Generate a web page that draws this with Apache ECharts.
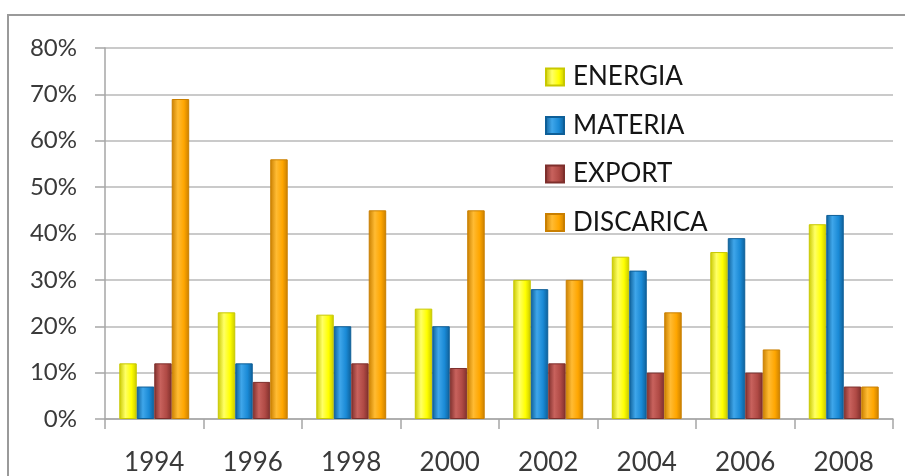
<!DOCTYPE html>
<html>
<head>
<meta charset="utf-8">
<script src="https://cdn.jsdelivr.net/npm/echarts@6/dist/echarts.min.js"></script>
<style>
  html, body { margin: 0; padding: 0; background: #ffffff; }
  #chart { width: 905px; height: 476px; }
</style>
</head>
<body>
<div id="chart"></div>
<script>
// Years on the category axis
var years = ['1994', '1996', '1998', '2000', '2002', '2004', '2006', '2008'];

// Share of each destination per year (%)
var energia   = [12, 23, 22.5, 23.8, 30, 35, 36, 42];
var materia   = [7, 12, 20, 20, 28, 32, 39, 44];
var exportVal = [12, 8, 12, 11, 12, 10, 10, 7];
var discarica = [69, 56, 45, 45, 30, 23, 15, 7];

// Value axis ticks (%)
var yTicks = [0, 10, 20, 30, 40, 50, 60, 70, 80];

var FONT = 'Lato';

function shade(main, dark, light) {
  return {
    type: 'linear', x: 0, y: 0, x2: 1, y2: 0,
    colorStops: [
      { offset: 0, color: dark },
      { offset: 0.35, color: light },
      { offset: 0.7, color: main },
      { offset: 1, color: dark }
    ]
  };
}

function barSeries(name, data, main, dark, light) {
  return {
    name: name,
    type: 'bar',
    data: data,
    barGap: '0%',
    barCategoryGap: '29%',
    itemStyle: {
      color: shade(main, dark, light),
      borderColor: dark,
      borderWidth: 1
    }
  };
}

var chart = echarts.init(document.getElementById('chart'), null, { renderer: 'canvas' });

chart.setOption({
  animation: false,
  backgroundColor: '#ffffff',
  textStyle: { fontFamily: FONT },
  graphic: [{
    type: 'rect',
    shape: { x: 8, y: 15, width: 920, height: 480 },
    style: { fill: 'none', stroke: '#9a9a9a', lineWidth: 2 },
    z: -1
  }],
  grid: { left: 105, right: 12, top: 48, bottom: 55, containLabel: false },
  legend: {
    orient: 'vertical',
    left: 540,
    top: 59,
    itemWidth: 18,
    itemHeight: 17,
    itemGap: 22.5,
    icon: 'rect',
    textStyle: { fontFamily: FONT, fontSize: 26, color: '#151515', padding: [0, 0, 0, 4] },
    data: ['ENERGIA', 'MATERIA', 'EXPORT', 'DISCARICA']
  },
  xAxis: {
    type: 'category',
    data: years,
    axisLine: { lineStyle: { color: '#a6a6a6', width: 1.5 } },
    axisTick: { show: true, length: 10, lineStyle: { color: '#a6a6a6', width: 1.5 } },
    axisLabel: { fontFamily: FONT, fontSize: 26, color: '#3a3a3a', margin: 31 }
  },
  yAxis: {
    type: 'value',
    min: yTicks[0],
    max: yTicks[yTicks.length - 1],
    interval: 10,
    axisLine: { show: true, lineStyle: { color: '#a6a6a6', width: 1.5 } },
    axisTick: { show: true, length: 10, lineStyle: { color: '#a6a6a6', width: 1.5 } },
    splitLine: { lineStyle: { color: '#b8b8b8', width: 1.5 } },
    axisLabel: { fontFamily: FONT, fontSize: 24, color: '#3a3a3a', margin: 28, formatter: '{value}%' }
  },
  series: [
    barSeries('ENERGIA', energia, '#ffff00', '#c8c800', '#ffff66'),
    barSeries('MATERIA', materia, '#1a8ad6', '#0e5f98', '#3fa6ea'),
    barSeries('EXPORT', exportVal, '#b04a45', '#7e2f2c', '#c8625d'),
    barSeries('DISCARICA', discarica, '#ffa600', '#c97f00', '#ffbb33')
  ]
});
</script>
</body>
</html>
